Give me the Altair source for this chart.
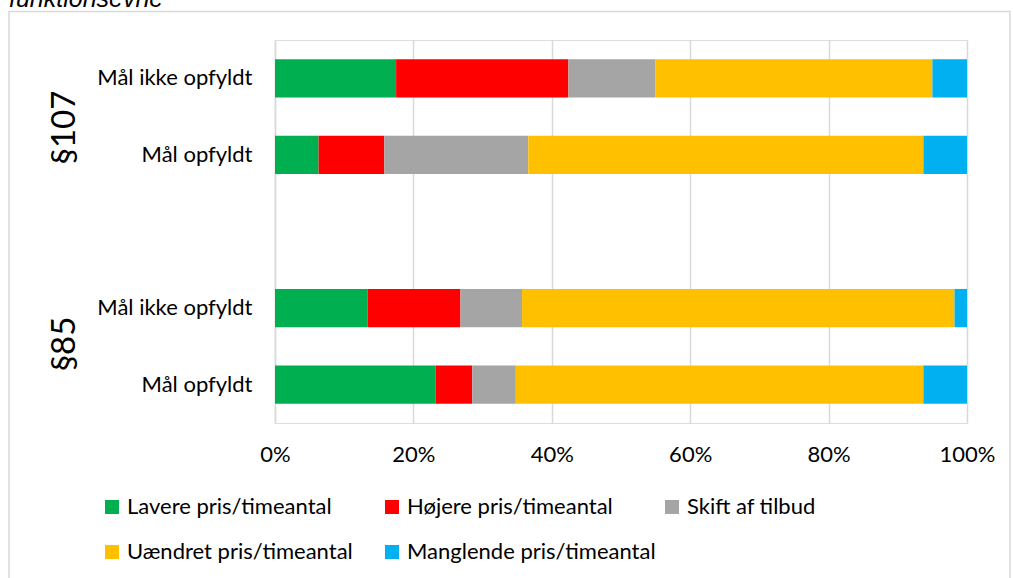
import altair as alt
import pandas as pd

# Data
rows = ["107_ikke", "107_op", "gap", "85_ikke", "85_op"]
row_labels = {"107_ikke": "Mål ikke opfyldt", "107_op": "Mål opfyldt", "gap": "",
              "85_ikke": "Mål ikke opfyldt", "85_op": "Mål opfyldt"}
series = ["Lavere pris/timeantal", "Højere pris/timeantal", "Skift af tilbud",
          "Uændret pris/timeantal", "Manglende pris/timeantal"]
colors = ["#00B050", "#FF0000", "#A5A5A5", "#FFC000", "#00B0F0"]

lavere = [17.5, 6.3, 13.4, 23.2]
hojere = [24.9, 9.5, 13.4, 5.3]
skift = [12.6, 20.8, 8.9, 6.3]
uaendret = [40.0, 57.1, 62.5, 58.9]
manglende = [5.0, 6.3, 1.8, 6.3]
bar_rows = ["107_ikke", "107_op", "85_ikke", "85_op"]

groups = ["§107", "§85"]
title_text = "funktionsevne"

records = []
for i, r in enumerate(bar_rows):
    for j, (s, vals) in enumerate(zip(series, [lavere, hojere, skift, uaendret, manglende])):
        records.append({"row": r, "serie": s, "value": vals[i], "order": j})
df = pd.DataFrame(records)

FONT = "Lato"

label_expr = " : ".join(
    [f"datum.value == '{k}' ? '{v}'" for k, v in row_labels.items()]) + " : ''"

bars = alt.Chart(df).mark_bar().encode(
    y=alt.Y("row:N", scale=alt.Scale(domain=rows, paddingInner=0.5, paddingOuter=0.25),
            axis=alt.Axis(title=None, labelExpr=label_expr, ticks=False, grid=False,
                          domainColor="#D9D9D9", domainWidth=1.5,
                          labelFont=FONT, labelFontSize=22, labelColor="#000000",
                          labelPadding=23, labelLimit=400)),
    x=alt.X("value:Q", stack="normalize",
            scale=alt.Scale(domain=[0, 1], nice=False),
            axis=alt.Axis(title=None, format="%", values=[0, 0.2, 0.4, 0.6, 0.8, 1.0],
                          ticks=False, domain=False, grid=True, gridColor="#D9D9D9",
                          gridWidth=1.5, labelFont=FONT, labelFontSize=22,
                          labelFlush=False, labelBound=False, labelOverlap=False,
                          labelColor="#000000", labelPadding=21, labelBaseline="top")),
    color=alt.Color("serie:N", scale=alt.Scale(domain=series, range=colors),
                    legend=alt.Legend(title=None, orient="none", legendX=-174, legendY=456,
                                      direction="horizontal", columns=3, gridAlign="all",
                                      symbolType="square", symbolSize=196,
                                      symbolStrokeWidth=0, labelFont=FONT,
                                      labelFontSize=22, labelColor="#000000",
                                      labelOffset=4, columnPadding=5, rowPadding=23,
                                      labelLimit=400)),
    order=alt.Order("order:Q"),
)

one = pd.DataFrame({"d": [0]})

g1 = alt.Chart(one).mark_text(text=groups[0], angle=270, font=FONT, fontSize=33,
                              color="#000000", align="center", baseline="middle").encode(
    x=alt.value(-210), y=alt.value(87.5))
g2 = alt.Chart(one).mark_text(text=groups[1], angle=270, font=FONT, fontSize=33,
                              color="#000000", align="center", baseline="middle").encode(
    x=alt.value(-210), y=alt.value(304))

ttl = alt.Chart(one).mark_text(text=title_text, font="Liberation Sans", fontStyle="italic",
                               fontSize=25, color="#000000", align="left",
                               baseline="alphabetic").encode(
    x=alt.value(-266), y=alt.value(-33.5))

frame = alt.Chart(one).mark_rect(fill=None, stroke="#D9D9D9", strokeWidth=1.5).encode(
    x=alt.value(-266), x2=alt.value(735), y=alt.value(-28.5), y2=alt.value(560))

chart = alt.layer(frame, bars, g1, g2, ttl).properties(
    width=692, height=383,
    autosize=alt.AutoSizeParams(type="none"),
    padding={"left": 275, "top": 40, "right": 46, "bottom": 155},
).configure_view(stroke=None).configure(background="white")

chart.save("out.html", embed_options={"renderer": "svg", "actions": False})
